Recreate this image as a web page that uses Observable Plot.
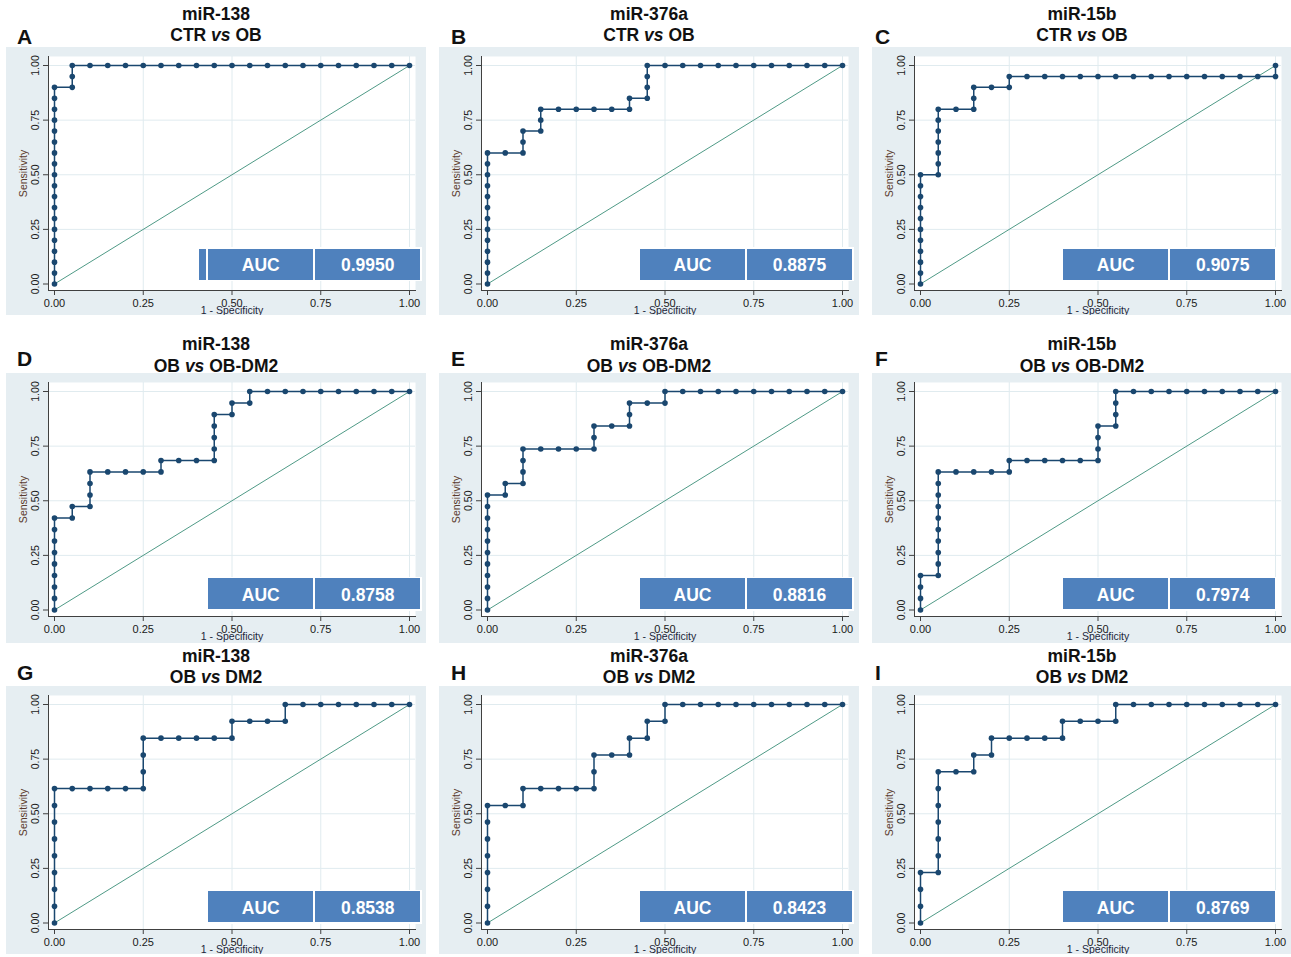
<!DOCTYPE html>
<html>
<head>
<meta charset="utf-8">
<script src="https://cdn.jsdelivr.net/npm/d3@7"></script>
<script src="https://cdn.jsdelivr.net/npm/@observablehq/plot@0.6"></script>
<style>
  html, body { margin: 0; padding: 0; background: #ffffff; }
  body { font-family: "Liberation Sans", Arial, sans-serif; }
  #root { position: relative; width: 1291px; height: 957px; overflow: hidden; background: #fff; }
  .panel { position: absolute; overflow: hidden; background: #e6eef2; }
  .panel svg { display: block; position: absolute; left: 0; top: 0; }
  .title { position: absolute; font-weight: bold; font-size: 17.5px; line-height: 1; text-align: center; color: #111; white-space: nowrap; }
  .letter { position: absolute; font-weight: bold; font-size: 21px; line-height: 1; color: #111; }
  .auc { position: absolute; background: #fff; padding: 1.5px; display: flex; gap: 2px; height: 31px; }
  .auc .cell { background: #4f81bd; color: #fff; font-weight: bold; font-size: 17.5px; width: 105px;
               display: flex; align-items: center; justify-content: center; padding-top: 3px; box-sizing: border-box; }
  .auc .cell.stub { width: 7.7px; }
</style>
</head>
<body>
<div id="root"></div>
<script>
// ---------- data ----------
const markers = ["miR-138", "miR-376a", "miR-15b"];
const comparisons = [["CTR", "OB"], ["OB", "OB-DM2"], ["OB", "DM2"]];
const panelLetters = ["A", "B", "C", "D", "E", "F", "G", "H", "I"];
const aucValues = ["0.9950", "0.8875", "0.9075", "0.8758", "0.8816", "0.7974", "0.8538", "0.8423", "0.8769"];
const xTicks = [0, 0.25, 0.5, 0.75, 1];
const yTicks = [0, 0.25, 0.5, 0.75, 1];
const gridTicks = [0.25, 0.5, 0.75, 1];
const refLine = [0, 1];

// A: miR-138 CTR vs OB
const fprA = [0,0,0,0,0,0,0,0,0,0,0,0,0,0,0,0,0,0,0, 0.05,0.05,0.05,
  0.10,0.15,0.20,0.25,0.30,0.35,0.40,0.45,0.50,0.55,0.60,0.65,0.70,0.75,0.80,0.85,0.90,0.95,1.00];
const tprA = [0,0.05,0.10,0.15,0.20,0.25,0.30,0.35,0.40,0.45,0.50,0.55,0.60,0.65,0.70,0.75,0.80,0.85,0.90, 0.90,0.95,1.00,
  1,1,1,1,1,1,1,1,1,1,1,1,1,1,1,1,1,1,1];
// B: miR-376a CTR vs OB
const fprB = [0,0,0,0,0,0,0,0,0,0,0,0,0, 0.05, 0.10,0.10,0.10, 0.15,0.15,0.15,
  0.20,0.25,0.30,0.35,0.40,0.40, 0.45,0.45,0.45,0.45,
  0.50,0.55,0.60,0.65,0.70,0.75,0.80,0.85,0.90,0.95,1.00];
const tprB = [0,0.05,0.10,0.15,0.20,0.25,0.30,0.35,0.40,0.45,0.50,0.55,0.60, 0.60, 0.60,0.65,0.70, 0.70,0.75,0.80,
  0.80,0.80,0.80,0.80,0.80,0.85, 0.85,0.90,0.95,1.00,
  1,1,1,1,1,1,1,1,1,1,1];
// C: miR-15b CTR vs OB
const fprC = [0,0,0,0,0,0,0,0,0,0,0, 0.05,0.05,0.05,0.05,0.05,0.05,0.05, 0.10, 0.15,0.15,0.15, 0.20, 0.25,0.25,
  0.30,0.35,0.40,0.45,0.50,0.55,0.60,0.65,0.70,0.75,0.80,0.85,0.90,0.95,1.00, 1.00];
const tprC = [0,0.05,0.10,0.15,0.20,0.25,0.30,0.35,0.40,0.45,0.50, 0.50,0.55,0.60,0.65,0.70,0.75,0.80, 0.80, 0.80,0.85,0.90, 0.90, 0.90,0.95,
  0.95,0.95,0.95,0.95,0.95,0.95,0.95,0.95,0.95,0.95,0.95,0.95,0.95,0.95,0.95, 1.00];
// D: miR-138 OB vs OB-DM2
const fprD = [0,0,0,0,0,0,0,0,0, 0.05,0.05, 0.10,0.10,0.10,0.10, 0.15,0.20,0.25,0.30, 0.30,0.35,0.40,0.45,
  0.45,0.45,0.45,0.45, 0.50,0.50, 0.55,0.55, 0.60,0.65,0.70,0.75,0.80,0.85,0.90,0.95,1.00];
const tprD = [0,0.053,0.105,0.158,0.211,0.263,0.316,0.368,0.421, 0.421,0.474, 0.474,0.526,0.579,0.632,
  0.632,0.632,0.632,0.632, 0.684,0.684,0.684,0.684, 0.737,0.789,0.842,0.895, 0.895,0.947, 0.947,1,
  1,1,1,1,1,1,1,1,1];
// E: miR-376a OB vs OB-DM2
const fprE = [0,0,0,0,0,0,0,0,0,0,0, 0.05,0.05, 0.10,0.10,0.10,0.10, 0.15,0.20,0.25,0.30, 0.30,0.30, 0.35,0.40,
  0.40,0.40, 0.45,0.50, 0.50, 0.55,0.60,0.65,0.70,0.75,0.80,0.85,0.90,0.95,1.00];
const tprE = [0,0.053,0.105,0.158,0.211,0.263,0.316,0.368,0.421,0.474,0.526, 0.526,0.579, 0.579,0.632,0.684,0.737,
  0.737,0.737,0.737,0.737, 0.789,0.842, 0.842,0.842, 0.895,0.947, 0.947,0.947, 1,
  1,1,1,1,1,1,1,1,1,1];
// F: miR-15b OB vs OB-DM2
const fprF = [0,0,0,0, 0.05,0.05,0.05,0.05,0.05,0.05,0.05,0.05,0.05,0.05, 0.10,0.15,0.20,0.25,
  0.25,0.30,0.35,0.40,0.45,0.50, 0.50,0.50,0.50, 0.55,0.55,0.55,0.55,
  0.60,0.65,0.70,0.75,0.80,0.85,0.90,0.95,1.00];
const tprF = [0,0.053,0.105,0.158, 0.158,0.211,0.263,0.316,0.368,0.421,0.474,0.526,0.579,0.632, 0.632,0.632,0.632,0.632,
  0.684,0.684,0.684,0.684,0.684,0.684, 0.737,0.789,0.842, 0.842,0.895,0.947,1,
  1,1,1,1,1,1,1,1,1];
// G: miR-138 OB vs DM2
const fprG = [0,0,0,0,0,0,0,0,0, 0.05,0.10,0.15,0.20,0.25, 0.25,0.25,0.25, 0.30,0.35,0.40,0.45,0.50, 0.50,
  0.55,0.60,0.65, 0.65, 0.70,0.75,0.80,0.85,0.90,0.95,1.00];
const tprG = [0,0.077,0.154,0.231,0.308,0.385,0.462,0.538,0.615, 0.615,0.615,0.615,0.615,0.615, 0.692,0.769,0.846,
  0.846,0.846,0.846,0.846,0.846, 0.923, 0.923,0.923,0.923, 1, 1,1,1,1,1,1,1];
// H: miR-376a OB vs DM2
const fprH = [0,0,0,0,0,0,0,0, 0.05,0.10, 0.10,0.15,0.20,0.25,0.30, 0.30,0.30, 0.35,0.40, 0.40,0.45, 0.45,0.50, 0.50,
  0.55,0.60,0.65,0.70,0.75,0.80,0.85,0.90,0.95,1.00];
const tprH = [0,0.077,0.154,0.231,0.308,0.385,0.462,0.538, 0.538,0.538, 0.615,0.615,0.615,0.615,0.615, 0.692,0.769,
  0.769,0.769, 0.846,0.846, 0.923,0.923, 1, 1,1,1,1,1,1,1,1,1,1];
// I: miR-15b OB vs DM2
const fprI = [0,0,0,0, 0.05,0.05,0.05,0.05,0.05,0.05,0.05, 0.10,0.15, 0.15,0.20, 0.20,0.25,0.30,0.35,0.40,
  0.40,0.45,0.50,0.55, 0.55, 0.60,0.65,0.70,0.75,0.80,0.85,0.90,0.95,1.00];
const tprI = [0,0.077,0.154,0.231, 0.231,0.308,0.385,0.462,0.538,0.615,0.692, 0.692,0.692, 0.769,0.769,
  0.846,0.846,0.846,0.846,0.846, 0.923,0.923,0.923,0.923, 1, 1,1,1,1,1,1,1,1,1];

const fprSeries = [fprA, fprB, fprC, fprD, fprE, fprF, fprG, fprH, fprI];
const tprSeries = [tprA, tprB, tprC, tprD, tprE, tprF, tprG, tprH, tprI];

// ---------- layout ----------
const colLefts = [6, 439, 872];
const rowTops = [47, 373, 686];
const rowHeights = [268, 270, 268];
const panelWidth = 420;
const titleBaselines = [[20.7, 41.7], [350.7, 372.7], [662.3, 683.3]];
const letterBaselines = [44, 366, 680];
const letterLefts = [17, 451, 875];
const aucLefts = [208.3, 640, 1063.3];
const aucTops = [248.7, 578.3, 891];

const navy = "#1a476f";
const fmt = d3.format(".2f");
const root = document.getElementById("root");

for (let i = 0; i < 9; i++) {
  const r = Math.floor(i / 3), c = i % 3;
  const left = colLefts[c], top = rowTops[r];

  // titles
  const t1 = document.createElement("div");
  t1.className = "title";
  t1.textContent = markers[c];
  t1.style.left = left + "px"; t1.style.width = panelWidth + "px";
  t1.style.top = (titleBaselines[r][0] - 14.8) + "px";
  root.appendChild(t1);
  const t2 = document.createElement("div");
  t2.className = "title";
  t2.innerHTML = comparisons[r][0] + " <i>vs</i> " + comparisons[r][1];
  t2.style.left = left + "px"; t2.style.width = panelWidth + "px";
  t2.style.top = (titleBaselines[r][1] - 14.8) + "px";
  root.appendChild(t2);
  const lt = document.createElement("div");
  lt.className = "letter";
  lt.textContent = panelLetters[i];
  lt.style.left = letterLefts[c] + "px";
  lt.style.top = (letterBaselines[r] - 17.8) + "px";
  root.appendChild(lt);

  // panel
  const panel = document.createElement("div");
  panel.className = "panel";
  panel.style.left = left + "px";
  panel.style.top = top + "px";
  panel.style.width = panelWidth + "px";
  panel.style.height = rowHeights[r] + "px";
  root.appendChild(panel);

  const rows = fprSeries[i].map((f, k) => ({fpr: f, tpr: tprSeries[i][k]}));

  const chart = Plot.plot({
    width: panelWidth,
    height: 268,
    marginLeft: 42, marginRight: 11, marginTop: 9, marginBottom: 25,
    x: {domain: [0, 1], insetLeft: 6, insetRight: 6},
    y: {domain: [0, 1], insetTop: 9, insetBottom: 6.5},
    style: {background: "transparent", fontFamily: "'Liberation Sans', Arial, sans-serif", color: "#1a1a1a", overflow: "visible"},
    marks: [
      Plot.frame({fill: "#ffffff", stroke: null}),
      Plot.gridX(gridTicks, {stroke: "#e0ebef", strokeOpacity: 1, strokeWidth: 1}),
      Plot.gridY(gridTicks, {stroke: "#e0ebef", strokeOpacity: 1, strokeWidth: 1}),
      Plot.line(refLine, {x: d => d, y: d => d, stroke: "#4f9a86", strokeWidth: 1}),
      Plot.line(rows, {x: "fpr", y: "tpr", stroke: navy, strokeWidth: 1.5}),
      Plot.dot(rows, {x: "fpr", y: "tpr", r: 2.8, fill: navy, stroke: null}),
      Plot.axisX({ticks: xTicks, tickFormat: () => "", tickSize: 5, label: null, stroke: "#404040"}),
      Plot.axisY({ticks: yTicks, tickFormat: () => "", tickSize: 5, label: null, stroke: "#404040"}),
      Plot.text(xTicks, {x: d => d, text: d => fmt(d), frameAnchor: "bottom", textAnchor: "middle", lineAnchor: "middle", dy: 12.8, fontSize: 11, fill: "#1a1a1a"}),
      Plot.text(yTicks, {y: d => d, text: d => fmt(d), frameAnchor: "left", textAnchor: "middle", lineAnchor: "middle", rotate: -90, dx: -13, fontSize: 10.5, fill: "#1a1a1a"}),
      Plot.frame({anchor: "left", stroke: "#404040", strokeWidth: 1}),
      Plot.frame({anchor: "bottom", stroke: "#404040", strokeWidth: 1}),
      Plot.text(["Sensitivity"], {frameAnchor: "left", textAnchor: "middle", lineAnchor: "middle", rotate: -90, dx: -25, fontSize: 10.5, fill: "#5a3a2c"}),
      Plot.text(["1 - Specificity"], {frameAnchor: "bottom", textAnchor: "middle", lineAnchor: "middle", dy: 20, fontSize: 10.5, fill: "#22263a"})
    ]
  });
  panel.appendChild(chart);

  // AUC box
  const box = document.createElement("div");
  box.className = "auc";
  box.style.left = (aucLefts[c] - left - 1.5) + "px";
  box.style.top = (aucTops[r] - top - 1.5) + "px";
  if (i === 0) {
    box.style.left = (aucLefts[c] - left - 1.5 - 9.7) + "px";
    const stub = document.createElement("div");
    stub.className = "cell stub";
    box.appendChild(stub);
  }
  const cellA = document.createElement("div");
  cellA.className = "cell"; cellA.textContent = "AUC";
  const cellV = document.createElement("div");
  cellV.className = "cell"; cellV.textContent = aucValues[i];
  box.appendChild(cellA); box.appendChild(cellV);
  panel.appendChild(box);
}
</script>
</body>
</html>
